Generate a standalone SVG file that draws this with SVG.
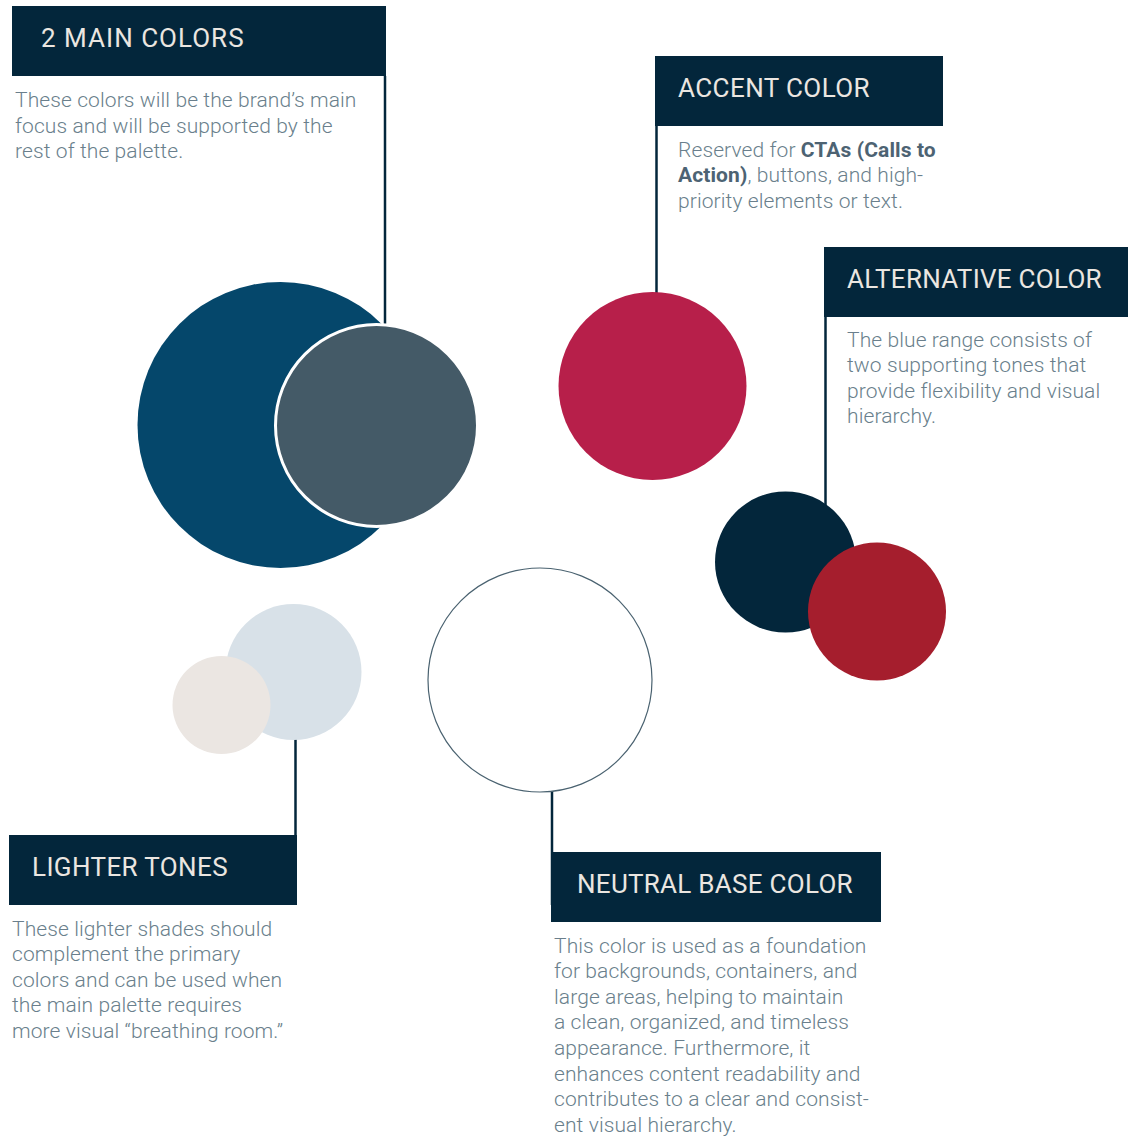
<svg xmlns="http://www.w3.org/2000/svg" width="1128" height="1136" viewBox="0 0 1128 1136">
<style>
.hdr{fill:#03263b}
.ht{font-family:Roboto,"Liberation Sans",sans-serif;font-size:26px;fill:#ebe6e1;font-weight:400;letter-spacing:0.4px}
.bt{font-family:Roboto,"Liberation Sans",sans-serif;font-size:21px;fill:#6a7f8c;font-weight:300;letter-spacing:0.1px}
.bt .b{font-weight:700;fill:#4d6373}
.con{stroke:#03263b;stroke-width:2.5;fill:none}
</style>
<rect width="1128" height="1136" fill="#ffffff"/>
<g id="connectors">
<line class="con" x1="385" y1="76" x2="385" y2="326"/>
<line class="con" x1="656.5" y1="126" x2="656.5" y2="295"/>
<line class="con" x1="825.5" y1="317" x2="825.5" y2="510"/>
<line class="con" x1="295.5" y1="738" x2="295.5" y2="836"/>
<line class="con" x1="552" y1="790" x2="552" y2="905"/>
</g>
<g id="main-colors">
<rect class="hdr" x="12" y="6" width="374" height="70"/>
<text class="ht" x="41" y="47" textLength="203" lengthAdjust="spacing">2 MAIN COLORS</text>
<text class="bt" x="15" y="107">These colors will be the brand’s main</text>
<text class="bt" x="15" y="133">focus and will be supported by the</text>
<text class="bt" x="15" y="158">rest of the palette.</text>
<circle cx="280.5" cy="425" r="143" fill="#05476b"/>
<circle cx="376.5" cy="425.5" r="101" fill="#445a67" stroke="#ffffff" stroke-width="3"/>
</g>
<g id="accent-color">
<rect class="hdr" x="655" y="56" width="288" height="70"/>
<text class="ht" x="678" y="97" textLength="192" lengthAdjust="spacing">ACCENT COLOR</text>
<text class="bt" x="678" y="157">Reserved for <tspan class="b">CTAs (Calls to</tspan></text>
<text class="bt" x="678" y="182"><tspan class="b">Action)</tspan>, buttons, and high-</text>
<text class="bt" x="678" y="208">priority elements or text.</text>
<circle cx="652.5" cy="386" r="94" fill="#b71f4a"/>
</g>
<g id="alternative-color">
<rect class="hdr" x="824" y="247" width="304" height="70"/>
<text class="ht" x="847" y="288" textLength="255" lengthAdjust="spacing">ALTERNATIVE COLOR</text>
<text class="bt" x="847" y="347">The blue range consists of</text>
<text class="bt" x="847" y="372">two supporting tones that</text>
<text class="bt" x="847" y="398">provide flexibility and visual</text>
<text class="bt" x="847" y="423">hierarchy.</text>
<circle cx="785.5" cy="562" r="70.5" fill="#03263b"/>
<circle cx="877" cy="611.5" r="69" fill="#a51e2d"/>
</g>
<g id="lighter-tones">
<circle cx="293.5" cy="672" r="68" fill="#d8e1e8"/>
<circle cx="221.5" cy="705" r="49" fill="#ebe6e2"/>
<rect class="hdr" x="9" y="835" width="288" height="70"/>
<text class="ht" x="32" y="876" textLength="196" lengthAdjust="spacing">LIGHTER TONES</text>
<text class="bt" x="12" y="936">These lighter shades should</text>
<text class="bt" x="12" y="961">complement the primary</text>
<text class="bt" x="12" y="987">colors and can be used when</text>
<text class="bt" x="12" y="1012">the main palette requires</text>
<text class="bt" x="12" y="1038">more visual “breathing room.”</text>
</g>
<g id="neutral-base-color">
<circle cx="540" cy="680" r="112" fill="#ffffff" stroke="#4a6270" stroke-width="1.2"/>
<rect class="hdr" x="551" y="852" width="330" height="70"/>
<text class="ht" x="577" y="893" textLength="276" lengthAdjust="spacing">NEUTRAL BASE COLOR</text>
<text class="bt" x="554" y="953">This color is used as a foundation</text>
<text class="bt" x="554" y="978">for backgrounds, containers, and</text>
<text class="bt" x="554" y="1004">large areas, helping to maintain</text>
<text class="bt" x="554" y="1029">a clean, organized, and timeless</text>
<text class="bt" x="554" y="1055">appearance. Furthermore, it</text>
<text class="bt" x="554" y="1081">enhances content readability and</text>
<text class="bt" x="554" y="1106">contributes to a clear and consist-</text>
<text class="bt" x="554" y="1132">ent visual hierarchy.</text>
</g>
</svg>
